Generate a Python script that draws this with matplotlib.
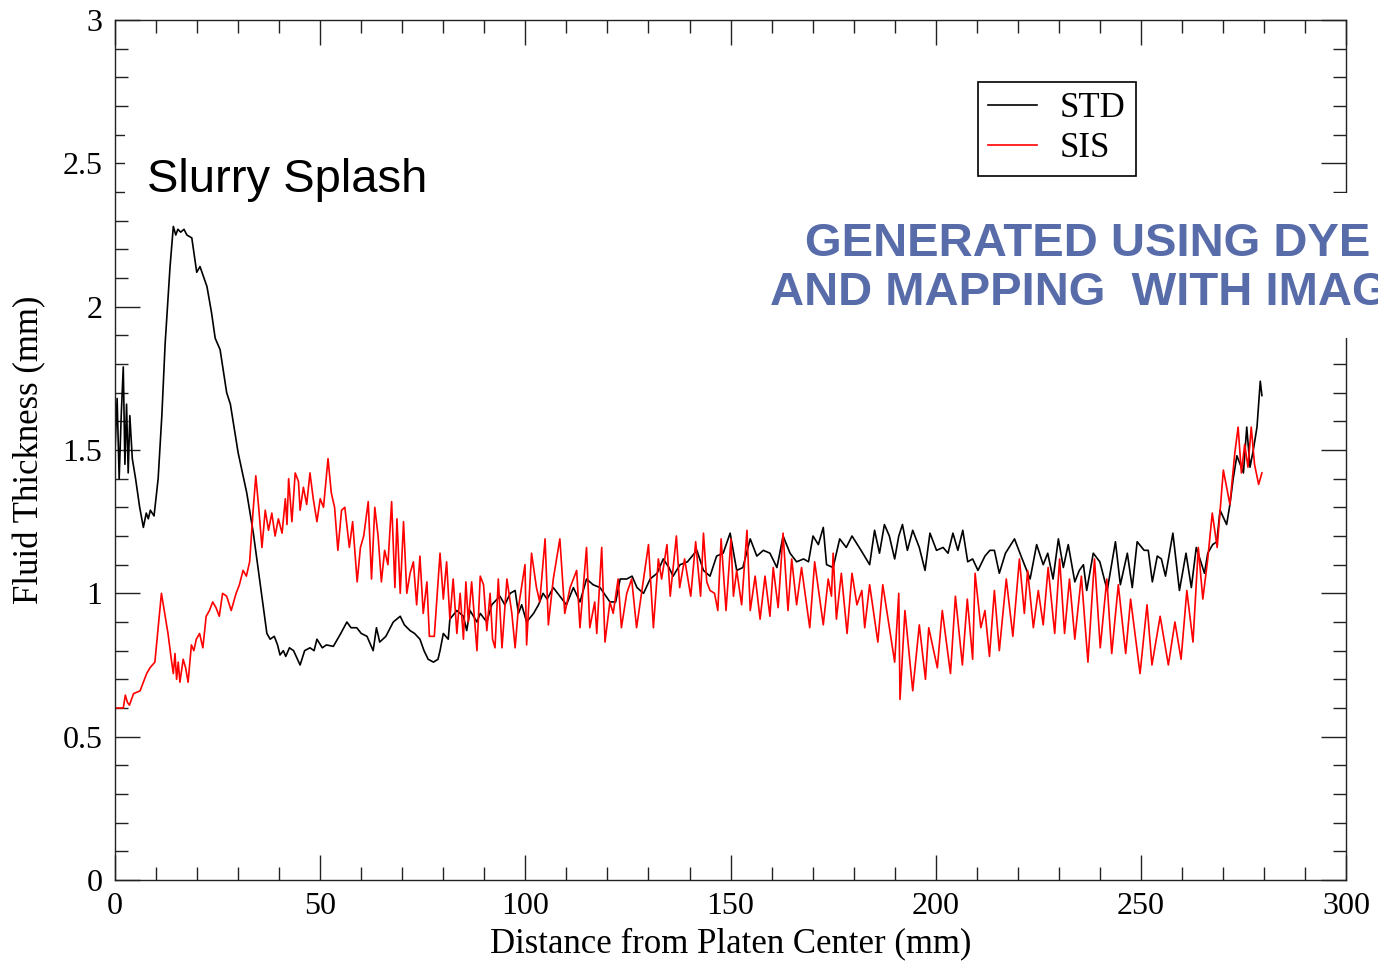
import matplotlib
matplotlib.use("Agg")
import matplotlib.pyplot as plt
from matplotlib.patches import Rectangle
from matplotlib.ticker import MultipleLocator

# STD trace (black): distance (mm), thickness (mm)
std_x = [0, 0.5, 1.0, 1.5, 2.0, 2.4, 2.8, 3.2, 3.6, 4.2, 5.0, 6.0, 6.9, 7.6, 8.1, 8.6, 9.5,
         10.5, 11.4, 12.2, 13.4, 14.2, 14.8, 15.3, 16.0, 16.8, 17.5, 18.7, 19.9, 20.7, 22.4,
         23.5, 24.4, 25.6, 27.2, 28.1, 30.0, 32.1, 33.7, 35.3, 37.0, 37.8, 38.8, 39.6, 40.2,
         41.0, 41.6, 42.5, 43.5, 45.1, 46.2, 47.5, 48.5, 49.2, 50.5, 51.5, 53.2, 55.0, 56.5,
         57.5, 58.9, 60.0, 61.4, 62.9, 63.7, 64.5, 66.0, 67.8, 69.5, 70.5, 71.9, 73.0, 74.3,
         75.3, 76.3, 77.6, 78.7, 79.2, 80.0, 81.2, 81.6, 83.3, 84.9, 85.7, 86.5, 88.2, 89.0,
         90.6, 91.8, 93.8, 95.0, 96.3, 97.5, 98.3, 99.1, 100.3, 102.0, 103.2, 104.3, 105.3,
         106.8, 108.4, 110.0, 111.7, 113.3, 114.9, 116.5, 118.2, 120.6, 122.0, 123.1, 124.7,
         126.0, 127.2, 128.8, 130.4, 132.1, 133.6, 135.0, 136.0, 137.7, 139.5, 141.8, 143.4,
         145.0, 146.6, 148.2, 149.9, 151.5, 153.0, 154.8, 156.4, 158.0, 159.6, 161.3, 162.0,
         162.8, 164.5, 166.1, 167.8, 169.0, 170.1, 171.4, 172.6, 173.4, 175.0, 176.6, 178.2,
         179.6, 181.8, 183.9, 185.1, 186.3, 187.5, 188.7, 190.0, 191.0, 191.9, 193.1, 194.4,
         196.0, 197.4, 198.6, 200.2, 201.8, 203.0, 204.2, 205.4, 206.6, 207.8, 209.0, 210.3,
         212.0, 213.2, 214.3, 215.5, 217.0, 219.2, 220.8, 223.0, 224.6, 226.2, 227.3, 228.6,
         229.9, 231.1, 232.3, 233.9, 235.0, 236.0, 236.8, 238.4, 240.0, 241.8, 243.8, 245.0,
         246.7, 247.9, 249.1, 250.8, 251.8, 252.8, 254.0, 255.0, 256.0, 257.8, 259.4, 261.0,
         262.3, 263.5, 265.5, 266.3, 267.5, 268.5, 269.3, 270.9, 271.7, 272.5, 273.4, 275.0,
         275.8, 276.6, 277.4, 278.3, 279.1, 279.5]
std_y = [1.50, 1.68, 1.40, 1.62, 1.79, 1.45, 1.66, 1.42, 1.62, 1.47, 1.40, 1.30, 1.23, 1.28,
         1.26, 1.29, 1.27, 1.40, 1.62, 1.87, 2.14, 2.28, 2.25, 2.27, 2.26, 2.27, 2.25, 2.24,
         2.12, 2.14, 2.07, 1.98, 1.89, 1.85, 1.70, 1.66, 1.49, 1.35, 1.21, 1.04, 0.86, 0.84,
         0.85, 0.82, 0.785, 0.80, 0.78, 0.81, 0.80, 0.75, 0.80, 0.81, 0.80, 0.84, 0.81, 0.82,
         0.815, 0.86, 0.90, 0.88, 0.88, 0.86, 0.85, 0.80, 0.88, 0.83, 0.85, 0.90, 0.92, 0.89,
         0.87, 0.86, 0.84, 0.80, 0.77, 0.76, 0.77, 0.80, 0.86, 0.84, 0.91, 0.94, 0.92, 0.87,
         0.94, 0.90, 0.93, 0.90, 0.96, 0.99, 0.96, 1.00, 1.01, 0.93, 0.96, 0.90, 0.93, 0.96,
         1.00, 0.98, 1.02, 0.99, 0.96, 1.02, 0.97, 1.05, 1.03, 1.02, 0.97, 0.97, 1.05, 1.05,
         1.06, 1.02, 1.00, 1.05, 1.07, 1.12, 1.09, 1.06, 1.10, 1.11, 1.15, 1.08, 1.06, 1.13,
         1.14, 1.21, 1.08, 1.09, 1.19, 1.13, 1.15, 1.14, 1.09, 1.14, 1.20, 1.14, 1.11, 1.12,
         1.11, 1.20, 1.17, 1.23, 1.10, 1.09, 1.19, 1.16, 1.20, 1.15, 1.10, 1.22, 1.14, 1.24,
         1.20, 1.12, 1.20, 1.24, 1.15, 1.22, 1.16, 1.08, 1.21, 1.15, 1.16, 1.14, 1.21, 1.15,
         1.22, 1.11, 1.12, 1.08, 1.13, 1.15, 1.15, 1.07, 1.14, 1.19, 1.13, 1.05, 1.17, 1.10,
         1.14, 1.05, 1.19, 1.09, 1.17, 1.04, 1.08, 1.10, 1.01, 1.14, 1.11, 1.01, 1.18, 1.03,
         1.14, 1.02, 1.18, 1.15, 1.15, 1.04, 1.13, 1.12, 1.06, 1.21, 1.01, 1.14, 1.02, 1.16,
         1.07, 1.14, 1.17, 1.18, 1.29, 1.24, 1.31, 1.40, 1.48, 1.42, 1.58, 1.44, 1.50, 1.58,
         1.74, 1.69]

# SIS trace (red)
sis_x = [0, 1.0, 2.0, 2.5, 3.0, 3.5, 4.5, 5.3, 6.1, 6.9, 7.7, 8.5, 9.7, 10.5, 11.3, 12.1,
         12.9, 13.8, 14.2, 14.6, 15.0, 15.4, 15.8, 16.6, 17.2, 17.8, 18.6, 19.2, 19.8, 20.6,
         21.4, 22.2, 23.0, 23.8, 24.6, 25.4, 26.2, 27.2, 28.3, 29.5, 30.3, 31.2, 32.0, 32.8,
         33.6, 34.3, 35.0, 35.8, 36.6, 37.4, 38.2, 39.0, 39.8, 40.7, 41.5, 41.9, 42.3, 43.1,
         43.9, 44.7, 45.1, 45.9, 46.7, 47.5, 48.3, 49.2, 50.0, 50.8, 51.9, 52.7, 53.5, 54.3,
         55.2, 56.0, 57.1, 57.9, 59.0, 59.8, 60.6, 61.7, 62.5, 63.3, 64.1, 64.9, 65.7, 66.5,
         67.4, 68.2, 68.7, 69.5, 70.3, 71.1, 71.9, 72.7, 73.5, 74.3, 75.1, 76.0, 76.6, 77.8,
         79.2, 80.0, 80.8, 81.6, 82.4, 83.3, 84.1, 84.9, 85.5, 86.1, 86.9, 88.2, 89.0, 89.8,
         90.6, 91.4, 92.0, 92.6, 93.4, 94.3, 95.5, 96.7, 97.5, 98.3, 99.9, 100.3, 101.5, 102.7,
         103.5, 104.8, 105.6, 106.8, 108.4, 109.6, 110.9, 112.5, 113.3, 114.9, 115.7, 116.9,
         117.4, 118.6, 119.4, 120.6, 121.4, 122.6, 123.4, 124.7, 125.9, 127.1, 130.0, 131.2,
         132.4, 133.2, 134.5, 135.3, 136.8, 137.6, 138.8, 140.3, 141.5, 142.7, 143.4, 144.2,
         145.0, 146.1, 146.9, 147.7, 148.9, 150.1, 150.7, 151.5, 152.7, 154.0, 154.8, 156.0,
         157.2, 158.4, 159.6, 160.4, 161.6, 162.8, 164.0, 164.9, 166.1, 167.3, 169.3, 170.5,
         172.6, 173.8, 174.6, 175.0, 175.8, 177.0, 178.4, 179.6, 180.8, 182.0, 182.7, 183.9,
         185.9, 187.1, 190.0, 191.0, 191.3, 192.5, 194.4, 196.0, 197.5, 198.3, 200.4, 201.6,
         203.6, 204.8, 206.5, 207.7, 209.0, 209.6, 211.0, 212.0, 213.1, 214.3, 215.5, 217.2,
         218.8, 220.4, 221.6, 222.4, 223.8, 225.0, 226.2, 227.4, 229.0, 230.2, 231.4, 232.6,
         233.9, 235.5, 237.1, 238.7, 240.1, 241.7, 242.9, 244.5, 246.3, 247.5, 249.8, 251.5,
         252.7, 254.7, 256.7, 258.3, 259.8, 261.2, 262.7, 264.0, 265.1, 266.3, 267.4, 268.6,
         270.1, 271.7, 272.9, 273.7, 274.5, 275.3, 276.1, 276.9, 277.7, 278.7, 279.5]
sis_y = [0.60, 0.60, 0.60, 0.645, 0.62, 0.61, 0.65, 0.655, 0.66, 0.69, 0.72, 0.74, 0.76,
         0.88, 1.00, 0.93, 0.86, 0.76, 0.72, 0.79, 0.70, 0.76, 0.69, 0.77, 0.74, 0.69, 0.82,
         0.80, 0.84, 0.86, 0.81, 0.92, 0.94, 0.97, 0.95, 0.92, 1.00, 0.99, 0.94, 1.00, 1.03,
         1.08, 1.06, 1.11, 1.28, 1.41, 1.30, 1.16, 1.29, 1.22, 1.28, 1.20, 1.26, 1.21, 1.33,
         1.24, 1.40, 1.25, 1.42, 1.39, 1.29, 1.37, 1.31, 1.42, 1.33, 1.25, 1.33, 1.30, 1.47,
         1.35, 1.30, 1.15, 1.29, 1.30, 1.16, 1.25, 1.04, 1.16, 1.20, 1.32, 1.05, 1.30, 1.20,
         1.04, 1.15, 1.10, 1.32, 1.02, 1.26, 1.00, 1.25, 1.00, 1.07, 1.11, 0.96, 1.13, 0.93,
         1.04, 0.85, 0.85, 1.14, 0.98, 1.11, 0.91, 1.05, 0.86, 1.00, 0.84, 1.04, 0.90, 1.04,
         0.80, 1.06, 1.03, 0.87, 1.00, 0.84, 0.81, 1.05, 0.81, 1.05, 0.93, 0.81, 0.95, 1.10,
         0.82, 1.14, 1.02, 0.97, 1.19, 0.89, 1.05, 1.19, 0.93, 1.02, 1.08, 0.88, 1.16, 0.88,
         0.97, 0.86, 1.16, 0.83, 0.97, 0.93, 1.05, 0.88, 1.00, 1.05, 0.88, 1.17, 0.88, 1.12,
         1.05, 1.17, 0.99, 1.20, 1.02, 1.12, 0.99, 1.18, 0.99, 1.21, 1.04, 1.01, 1.00, 0.94,
         1.19, 0.94, 1.19, 0.99, 1.08, 0.96, 1.22, 0.94, 1.06, 0.91, 1.06, 0.92, 1.09, 0.95,
         1.21, 0.94, 1.12, 0.96, 1.09, 0.88, 1.11, 0.89, 1.05, 0.99, 1.14, 0.91, 1.07, 0.86,
         1.07, 0.96, 1.01, 0.88, 1.03, 0.83, 1.03, 0.76, 1.00, 0.63, 0.94, 0.66, 0.89, 0.70,
         0.88, 0.74, 0.94, 0.72, 0.99, 0.75, 0.98, 0.77, 1.07, 0.88, 0.94, 0.78, 1.01, 0.80,
         1.05, 0.85, 1.12, 0.93, 1.08, 0.88, 1.01, 0.89, 1.09, 0.86, 1.12, 0.86, 1.05, 0.84,
         1.06, 0.76, 1.12, 0.81, 1.05, 0.79, 1.03, 0.79, 0.98, 0.72, 0.96, 0.75, 0.92, 0.75,
         0.90, 0.77, 1.01, 0.83, 1.16, 0.98, 1.12, 1.28, 1.16, 1.43, 1.31, 1.49, 1.58, 1.42,
         1.52, 1.44, 1.58, 1.45, 1.38, 1.42]

serif = "Liberation Serif"
sans = "Liberation Sans"

fig = plt.figure(figsize=(13.78, 9.63), dpi=100)
ax = fig.add_axes([0.0835, 0.0862, 0.8933, 0.8930])

ax.plot(std_x, std_y, color="black", lw=1.2, label="STD")
ax.plot(sis_x, sis_y, color="red", lw=1.2, label="SIS")

ax.set_xlim(0, 300)
ax.set_ylim(0, 3)
ax.xaxis.set_major_locator(MultipleLocator(50))
ax.xaxis.set_minor_locator(MultipleLocator(10))
ax.yaxis.set_major_locator(MultipleLocator(0.5))
ax.yaxis.set_minor_locator(MultipleLocator(0.1))
ax.tick_params(which="both", direction="in", top=True, right=True, width=1.0, color="#222222")
ax.tick_params(which="major", length=18, pad=9, labelsize=23)
ax.tick_params(which="minor", length=9.5)
for lab in ax.get_xticklabels() + ax.get_yticklabels():
    lab.set_fontfamily(serif)
ax.yaxis.set_major_formatter(plt.FuncFormatter(lambda v, p: "%g" % v))
for s in ax.spines.values():
    s.set_linewidth(1.0)
    s.set_color("#222222")

ax.set_xlabel("Distance from Platen Center (mm)", fontsize=25, family=serif)
ax.set_ylabel("Fluid Thickness (mm)", fontsize=25, family=serif)
ax.xaxis.set_label_coords(0.5, -0.055)
ax.yaxis.set_label_coords(-0.056, 0.5)

leg = ax.legend(loc="upper left", bbox_to_anchor=(0.701, 0.928), fancybox=False,
                edgecolor="black", framealpha=1, prop={"family": serif, "size": 25},
                handlelength=1.4, handletextpad=0.65, borderpad=0.3, labelspacing=0.2,
                borderaxespad=0)
leg.get_frame().set_linewidth(1.2)

# white boxes behind the annotation texts
fig.add_artist(Rectangle((0.0907, 0.7965), 0.2264, 0.0654, transform=fig.transFigure,
                         facecolor="white", edgecolor="none", zorder=5))
fig.add_artist(Rectangle((0.555, 0.649), 0.445, 0.1506, transform=fig.transFigure,
                         facecolor="white", edgecolor="none", zorder=5))

fig.text(147 / 1378, 1 - 192 / 963, "Slurry Splash", fontsize=34, family=sans,
         va="baseline", zorder=6)
blue = "#586CAA"
fig.text(805 / 1378, 1 - 256 / 963, "GENERATED USING DYE FLUORESCENCE", fontsize=34,
         family=sans, weight="bold", color=blue, va="baseline", zorder=6)
fig.text(770 / 1378, 1 - 305 / 963, "AND MAPPING  WITH IMAGING", fontsize=34,
         family=sans, weight="bold", color=blue, va="baseline", zorder=6)

fig.savefig("out.png", dpi=100)
